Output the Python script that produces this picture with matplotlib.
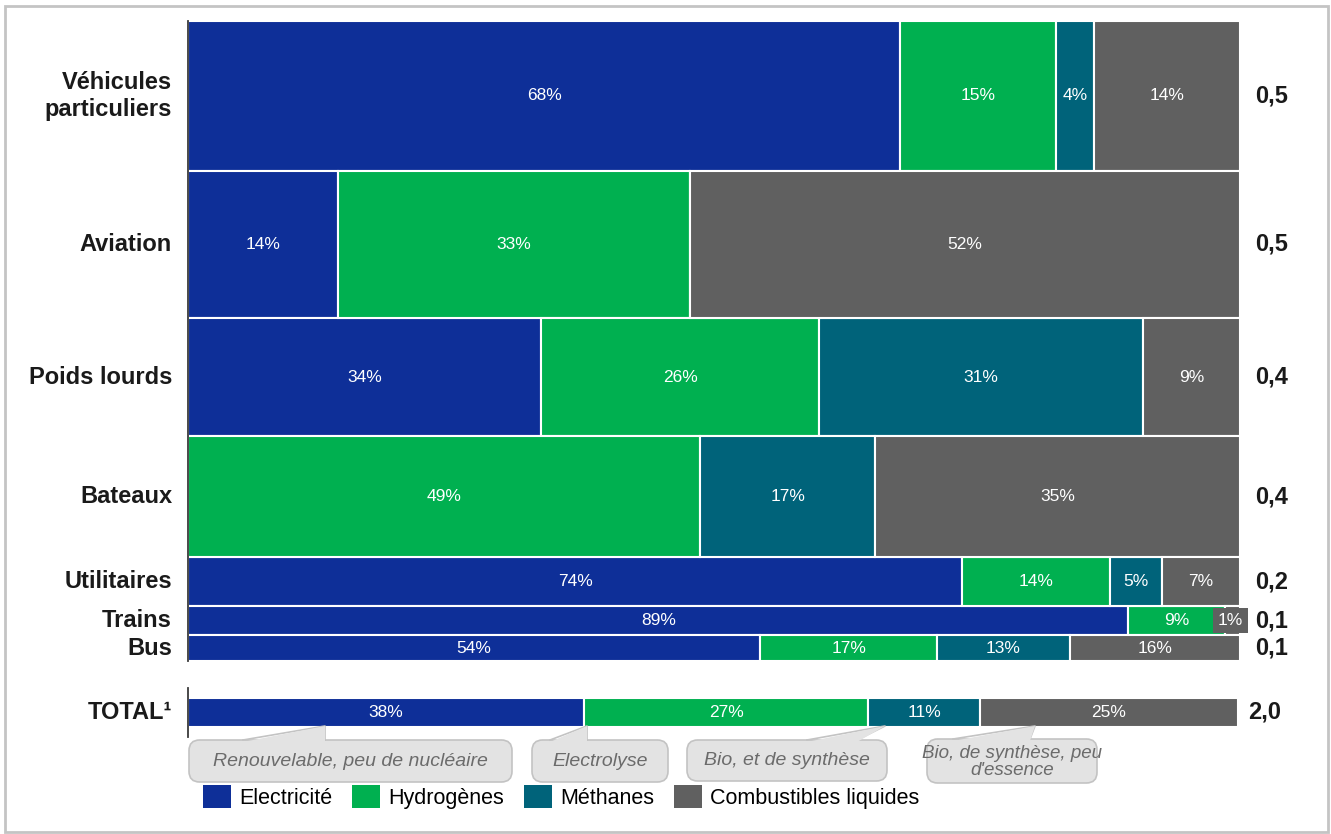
import matplotlib
matplotlib.use('Agg')
import matplotlib.pyplot as plt
from matplotlib.patches import Patch, FancyBboxPatch, Polygon, Rectangle
from matplotlib.lines import Line2D
import numpy as np

plt.rcParams['font.family'] = ['Liberation Sans', 'DejaVu Sans']

# usages (rows) and energy vectors (columns)
usages = ['Véhicules\nparticuliers', 'Aviation', 'Poids lourds', 'Bateaux',
          'Utilitaires', 'Trains', 'Bus']
demand = [0.52, 0.51, 0.41, 0.42, 0.17, 0.10, 0.09]
vectors = ['Electricité', 'Hydrogènes', 'Méthanes', 'Combustibles liquides']
shares = {
    'Electricité':           [67.7, 14.3, 33.6, 0.0, 73.6, 89.4, 54.4],
    'Hydrogènes':            [14.8, 33.4, 26.4, 48.7, 14.0, 9.2, 16.8],
    'Méthanes':              [3.6, 0.0, 30.8, 16.6, 5.0, 0.0, 12.6],
    'Combustibles liquides': [13.9, 52.3, 9.2, 34.7, 7.4, 1.4, 16.2],
}
total_shares = [37.7, 27.1, 10.6, 24.6]
total_demand = 2.0
total_label = 'TOTAL¹'
notes = ['Renouvelable, peu de nucléaire', 'Electrolyse',
         'Bio, et de synthèse', 'Bio, de synthèse, peu\nd\'essence']

colors = ['#0e2f98', '#00b050', '#00637a', '#606060']

W, H = 1331, 834
fig = plt.figure(figsize=(W / 100, H / 100), dpi=100)


def fx(px):
    return px / W


def fy(py):
    return 1 - py / H


def fmt(v):
    return f'{v:.1f}'.replace('.', ',')


# outer frame
fig.patches.append(Rectangle((fx(5), fy(832)), fx(1328) - fx(5), fy(6) - fy(832),
                             transform=fig.transFigure, fill=False,
                             edgecolor='#c4c4c4', linewidth=2))

# ---- main mekko: row height = demand, segment width = share
ax = fig.add_axes([fx(188), fy(661), fx(1240) - fx(188), (661 - 21) / H])
bottoms = np.concatenate([[0], np.cumsum(demand)[:-1]])
centers = bottoms + np.array(demand) / 2
mat = np.array([shares[v] for v in vectors], dtype=float)
frac = mat / mat.sum(axis=0)
lefts = np.vstack([np.zeros(len(usages)), np.cumsum(frac, axis=0)[:-1]])

for i, v in enumerate(vectors):
    ax.barh(centers, frac[i], left=lefts[i], height=demand, color=colors[i],
            edgecolor='white', linewidth=1.5)
    for j in range(len(usages)):
        val = shares[v][j]
        if val == 0:
            continue
        xc = lefts[i][j] + frac[i][j] / 2
        if frac[i][j] < 0.03:
            # narrow segment: label sits on its own grey tag
            ax.text(xc - 0.002, centers[j], f'{val:.0f}%', ha='center', va='center',
                    color='white', fontsize=12.5,
                    bbox=dict(boxstyle='square,pad=0.28', fc=colors[i], ec='none'))
        else:
            ax.text(xc, centers[j], f'{val:.0f}%', ha='center', va='center',
                    color='white', fontsize=12.5)

for j, name in enumerate(usages):
    ax.annotate(name, xy=(0, centers[j]), xycoords=('axes fraction', 'data'),
                xytext=(-16, 0), textcoords='offset pixels', ha='right', va='center',
                fontsize=17, fontweight='bold', color='#1a1a1a')
    ax.annotate(fmt(demand[j]), xy=(1, centers[j]), xycoords=('axes fraction', 'data'),
                xytext=(15, 0), textcoords='offset pixels', ha='left', va='center',
                fontsize=17, fontweight='bold', color='#1a1a1a')

ax.set_xlim(0, 1)
ax.set_ylim(sum(demand), 0)
ax.set_xticks([])
ax.set_yticks([])
for s in ['top', 'right', 'bottom']:
    ax.spines[s].set_visible(False)
ax.spines['left'].set_color('#3a3a3a')
ax.spines['left'].set_linewidth(1.3)

# ---- total bar
axt = fig.add_axes([fx(188), fy(737), (1238 - 188) / W, (737 - 688) / H])
tf = np.array(total_shares, dtype=float) / sum(total_shares)
tl = np.concatenate([[0], np.cumsum(tf)[:-1]])
axt.barh(0, tf, left=tl, height=1, color=colors, edgecolor='white', linewidth=1.5)
for k, val in enumerate(total_shares):
    axt.text(tl[k] + tf[k] / 2, 0, f'{val:.0f}%', ha='center', va='center',
             color='white', fontsize=12.5)
axt.annotate(total_label, xy=(0, 0), xycoords=('axes fraction', 'data'),
             xytext=(-16, 0), textcoords='offset pixels', ha='right', va='center',
             fontsize=17, fontweight='bold', color='#1a1a1a')
axt.annotate(fmt(total_demand), xy=(1, 0), xycoords=('axes fraction', 'data'),
             xytext=(10, 0), textcoords='offset pixels', ha='left', va='center',
             fontsize=17, fontweight='bold', color='#1a1a1a')
axt.set_xlim(0, 1)
axt.set_ylim(-0.845, 0.845)
axt.set_xticks([])
axt.set_yticks([])
for s in ['top', 'right', 'bottom']:
    axt.spines[s].set_visible(False)
axt.spines['left'].set_color('#3a3a3a')
axt.spines['left'].set_linewidth(1.3)

# ---- callouts under the total bar (box px: left, top, right, bottom; wedge base x1, x2; tip x)
callouts = [
    (189, 740, 512, 782, 243, 325, 325),
    (532, 740, 668, 782, 550, 587, 587),
    (687, 740, 887, 781, 807, 857, 885),
    (927, 739, 1097, 783, 953, 1030, 1035),
]
box_fc, box_ec = '#e3e3e3', '#c3c3c3'
for note, (l, t, r, b, b1, b2, tipx) in zip(notes, callouts):
    fig.patches.append(FancyBboxPatch((fx(l), fy(b)), fx(r) - fx(l), fy(t) - fy(b),
                                      boxstyle='round,pad=0,rounding_size=0.008',
                                      transform=fig.transFigure, fc=box_fc, ec=box_ec,
                                      linewidth=1.2, zorder=2,
                                      mutation_aspect=W / H))
    tip = (fx(tipx), fy(726))
    fig.patches.append(Polygon([(fx(b1), fy(t + 2)), tip, (fx(b2), fy(t + 2))],
                               closed=True, transform=fig.transFigure, fc=box_fc,
                               ec='none', zorder=3))
    fig.lines.append(Line2D([fx(b1), tip[0], fx(b2)], [fy(t), tip[1], fy(t)],
                            transform=fig.transFigure, color=box_ec, linewidth=1.2,
                            zorder=3))
    multi = '\n' in note
    fig.text(fx((l + r) / 2), fy((t + b) / 2 + (1 if multi else 0)), note,
             ha='center', va='center', fontsize=13.5 if multi else 14,
             style='italic', color='#6b6b6b', linespacing=0.95, zorder=4)

# ---- legend
handles = [Patch(facecolor=c, edgecolor='none') for c in colors]
fig.legend(handles, vectors, loc='center left', bbox_to_anchor=(fx(203), fy(797)),
           ncol=4, frameon=False, fontsize=15.5, handlelength=1.3, handleheight=1.25,
           handletextpad=0.4, columnspacing=0.9, borderpad=0, borderaxespad=0)

fig.savefig('out.png', dpi=100, facecolor='white')
